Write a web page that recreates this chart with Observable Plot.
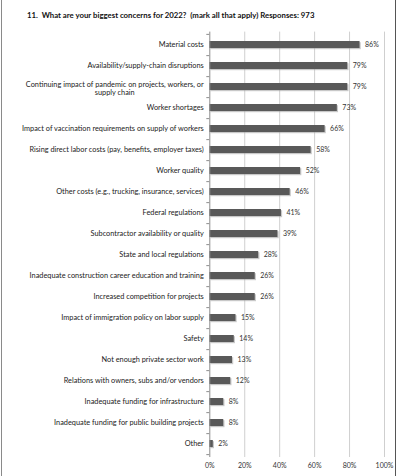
<!DOCTYPE html>
<html>
<head>
<meta charset="utf-8">
<script src="https://cdn.jsdelivr.net/npm/d3@7"></script>
<script src="https://cdn.jsdelivr.net/npm/@observablehq/plot@0.6"></script>
<style>
  html, body { margin: 0; padding: 0; background: #fff; }
  #wrap { position: relative; width: 400px; height: 476px; overflow: hidden; }
  #title { height: 24px; box-sizing: border-box; padding: 10px 0 0 27px; font: bold 7.8px Lato, sans-serif; color: #111; white-space: pre; line-height: 11px; }
  .edge { position: absolute; top: 0; bottom: 0; width: 1px; }
  svg { display: block; }
</style>
</head>
<body>
<div id="wrap">
  <div class="edge" style="left:1px;background:#8a8a8a"></div>
  <div class="edge" style="left:395px;background:#555"></div>
  <div id="title"></div>
  <div id="chart"></div>
</div>
<script>
const titleText = "11.  What are your biggest concerns for 2022?  (mark all that apply) Responses: 973";
const categories = [
  "Material costs",
  "Availability/supply-chain disruptions",
  "Continuing impact of pandemic on projects, workers, or\nsupply chain",
  "Worker shortages",
  "Impact of vaccination requirements on supply of workers",
  "Rising direct labor costs (pay, benefits, employer taxes)",
  "Worker quality",
  "Other costs (e.g., trucking, insurance, services)",
  "Federal regulations",
  "Subcontractor availability or quality",
  "State and local regulations",
  "Inadequate construction career education and training",
  "Increased competition for projects",
  "Impact of immigration policy on labor supply",
  "Safety",
  "Not enough private sector work",
  "Relations with owners, subs and/or vendors",
  "Inadequate funding for infrastructure",
  "Inadequate funding for public building projects",
  "Other"
];
const values = [86, 79, 79, 73, 66, 58, 52, 46, 41, 39, 28, 26, 26, 15, 14, 13, 12, 8, 8, 2];
const xTicks = [0, 20, 40, 60, 80, 100];

document.getElementById("title").textContent = titleText;

const data = categories.map((c, i) => ({category: c, value: values[i]}));

const labelSize = 7.35;
const ctx = document.createElement("canvas").getContext("2d");
ctx.font = labelSize + "px Lato, sans-serif";

const W = 400, H = 452;
const mTop = 7.6, mBottom = 19, mLeft = 209.3, mRight = 16;
const step = (H - mTop - mBottom) / categories.length;

const single = data.filter(d => !d.category.includes("\n"));
const multi = data.filter(d => d.category.includes("\n"));
const multiWidth = multi.length ? Math.max(...multi[0].category.split("\n").map(s => ctx.measureText(s).width)) : 0;

const chart = Plot.plot({
  width: W,
  height: H,
  marginTop: mTop,
  marginBottom: mBottom,
  marginLeft: mLeft,
  marginRight: mRight,
  style: {fontFamily: "Lato, sans-serif", background: "transparent"},
  x: {domain: [0, 100], axis: null},
  y: {domain: categories, axis: null, paddingInner: 0.65, paddingOuter: 0.325},
  marks: [
    Plot.ruleX(xTicks.filter(t => t > 0), {stroke: "#cfcfcf", strokeWidth: 1}),
    Plot.barX(data, {y: "category", x: "value", fill: "#9a9a9a", fillOpacity: 0.55, dx: 1.2, dy: 1.2}),
    Plot.barX(data, {y: "category", x: "value", fill: "#595959"}),
    Plot.ruleX([0], {stroke: "#8c8c8c", strokeWidth: 1}),
    Plot.ruleY(data, {y: "category", x1: 0, x2: 0, insetLeft: -3, dy: step / 2, stroke: "#8c8c8c"}),
    Plot.ruleY(data.slice(0, 1), {y: "category", x1: 0, x2: 0, insetLeft: -3, dy: -step / 2, stroke: "#8c8c8c"}),
    Plot.text(data, {y: "category", x: "value", text: d => d.value + "%", dx: 5, textAnchor: "start", fontSize: 7, fill: "#333"}),
    Plot.text(single, {y: "category", x: 0, text: "category", dx: -6, textAnchor: "end", fontSize: labelSize, fill: "#222"}),
    Plot.text(multi, {y: "category", x: 0, text: "category", dx: -6 - multiWidth / 2, dy: 1.5, textAnchor: "middle", lineHeight: 1.12, fontSize: labelSize, fill: "#222"}),
    Plot.axisX({ticks: xTicks, tickFormat: d => d + "%", tickSize: 0, tickPadding: 6, fontSize: 7, color: "#333", label: null})
  ]
});
document.getElementById("chart").appendChild(chart);
</script>
</body>
</html>
